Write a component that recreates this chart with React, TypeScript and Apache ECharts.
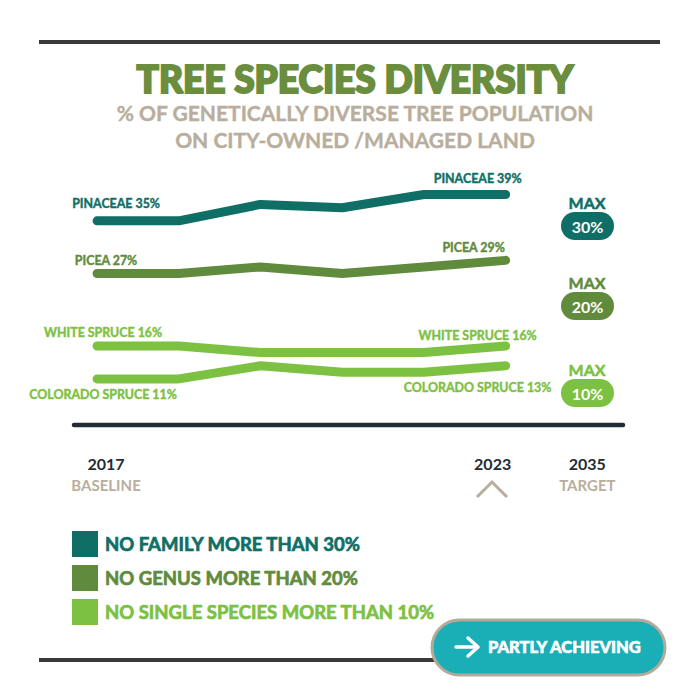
import React, { useEffect, useRef } from "react";
import * as echarts from "echarts";

// ---------- data ----------
const years = ["2017", "2019", "2020", "2021", "2022", "2023", "2035"];
const seriesNames = ["PINACEAE", "PICEA", "WHITE SPRUCE", "COLORADO SPRUCE"];
const pinaceae = [35, 35, 37.5, 37, 39, 39];
const picea = [27, 27, 28, 27, 28, 29];
const whiteSpruce = [16, 16, 15, 15, 15, 16];
const coloradoSpruce = [11, 11, 13, 12, 12, 13];
const targets = ["30%", "20%", "10%"];
const legendTexts = [
  "NO FAMILY MORE THAN 30%",
  "NO GENUS MORE THAN 20%",
  "NO SINGLE SPECIES MORE THAN 10%",
];
const titleText = "TREE SPECIES DIVERSITY";
const subtitleText = "% OF GENETICALLY DIVERSE TREE POPULATION\nON CITY-OWNED /MANAGED LAND";
const statusText = "PARTLY ACHIEVING";

// ---------- styles ----------
const TEAL = "#0f6f66";
const OLIVE = "#618b3c";
const LIGHT = "#7cc142";
const TITLE_GREEN = "#6a8e3e";
const BEIGE = "#b9ae9d";
const DARK = "#232b33";
const FONT = "Lato, 'Open Sans', sans-serif";

const colors = [TEAL, OLIVE, LIGHT, LIGHT];
const values = [pinaceae, picea, whiteSpruce, coloradoSpruce];
const startOffsets: [number, number][] = [
  [19, -17],
  [9, -13],
  [6, -13],
  [6, 16],
];
const endOffsets: [number, number][] = [
  [-28, -16],
  [-32, -13],
  [-28, -10],
  [-28, 22],
];

export default function App() {
  const ref = useRef<HTMLDivElement>(null);

  useEffect(() => {
    document.body.style.margin = "0";
    if (!ref.current) return;
    const chart = echarts.init(ref.current, undefined, { renderer: "svg" });

    const series = values.map((vals, s) => ({
      name: seriesNames[s],
      type: "line",
      color: colors[s],
      symbol: "circle",
      symbolSize: 1,
      showSymbol: true,
      lineStyle: { width: 9, color: colors[s], cap: "round", join: "round" },
      itemStyle: { color: colors[s] },
      z: 3,
      label: {
        show: false,
        fontFamily: FONT,
        fontWeight: "bold",
        fontSize: 12.4,
        color: colors[s],
        textBorderColor: colors[s],
        textBorderWidth: 0.4,
        formatter: (p: any) => `${p.seriesName} ${p.value}%`,
      },
      data: vals.map((v, i) => {
        if (i === 0)
          return { value: v, label: { show: true, position: "inside", offset: startOffsets[s] } };
        if (i === vals.length - 1)
          return { value: v, label: { show: true, position: "inside", offset: endOffsets[s] } };
        return v;
      }),
    }));

    const badgeCentersY = [226, 306, 393];
    const badgeColors = [TEAL, OLIVE, LIGHT];
    const badges: any[] = [];
    targets.forEach((t, i) => {
      const cy = badgeCentersY[i];
      badges.push({
        type: "text",
        x: 587,
        y: cy - 24,
        style: {
          text: "MAX",
          fill: badgeColors[i],
          font: `bold 16px ${FONT}`,
          stroke: badgeColors[i],
          lineWidth: 0.5,
          textAlign: "center",
          textVerticalAlign: "middle",
        },
      });
      badges.push({
        type: "rect",
        shape: { x: 561, y: cy - 14, width: 53, height: 28, r: 14 },
        style: { fill: badgeColors[i] },
      });
      badges.push({
        type: "text",
        x: 587.5,
        y: cy,
        style: {
          text: t,
          fill: "#ffffff",
          font: `bold 16px ${FONT}`,
          textAlign: "center",
          textVerticalAlign: "middle",
        },
      });
    });

    const option: any = {
      animation: false,
      backgroundColor: "#ffffff",
      title: [
        {
          text: titleText,
          left: 350,
          top: 55,
          textAlign: "center",
          textStyle: {
            fontFamily: FONT,
            fontWeight: 900,
            fontSize: 37,
            color: TITLE_GREEN,
            textBorderColor: TITLE_GREEN,
            textBorderWidth: 2,
          },
        },
        {
          text: subtitleText,
          left: 350,
          top: 94,
          textAlign: "center",
          textStyle: {
            fontFamily: FONT,
            fontWeight: "bold",
            fontSize: 21,
            lineHeight: 27,
            color: BEIGE,
            align: "center",
            textBorderColor: BEIGE,
            textBorderWidth: 0.4,
          },
        },
      ],
      legend: {
        orient: "vertical",
        left: 67,
        top: 526,
        itemWidth: 26,
        itemHeight: 26,
        itemGap: 8,
        icon: "rect",
        selectedMode: false,
        data: [0, 1, 2].map((i) => ({
          name: seriesNames[i],
          textStyle: { color: colors[i], textBorderColor: colors[i], textBorderWidth: 0.7 },
        })),
        formatter: (name: string) => legendTexts[seriesNames.indexOf(name)],
        textStyle: {
          fontFamily: FONT,
          fontWeight: "bold",
          fontSize: 18.5,
          padding: [0, 0, 0, 2],
        },
      },
      grid: { left: 56.2, right: 71.8, top: 155, bottom: 275 },
      xAxis: {
        type: "category",
        data: years,
        boundaryGap: true,
        axisLine: { show: false },
        axisTick: { show: false },
        splitLine: { show: false },
        axisLabel: {
          interval: 0,
          margin: 27,
          formatter: (v: string, i: number) => {
            if (i === 0) return `{y0|${v}}\n{s0|BASELINE}`;
            if (i === 5) return `{y5|${v}}`;
            if (i === 6) return `{y|${v}}\n{s|TARGET}`;
            return "";
          },
          rich: {
            y: { fontFamily: FONT, fontWeight: "bold", fontSize: 16, color: DARK, lineHeight: 22 },
            s: { fontFamily: FONT, fontWeight: "bold", fontSize: 15, color: BEIGE, lineHeight: 22 },
            y0: { fontFamily: FONT, fontWeight: "bold", fontSize: 16, color: DARK, lineHeight: 22, padding: [0, 0, 0, 18] },
            s0: { fontFamily: FONT, fontWeight: "bold", fontSize: 15, color: BEIGE, lineHeight: 22, padding: [0, 0, 0, 18] },
            y5: { fontFamily: FONT, fontWeight: "bold", fontSize: 16, color: DARK, lineHeight: 22, padding: [0, 26, 0, 0] },
          },
        },
      },
      yAxis: {
        type: "value",
        min: 4,
        max: 45,
        show: false,
        splitLine: { show: false },
      },
      series,
      graphic: [
        { type: "line", shape: { x1: 39, y1: 42, x2: 660, y2: 42 }, style: { stroke: "#3a3a3a", lineWidth: 4 } },
        { type: "line", shape: { x1: 39, y1: 660, x2: 660, y2: 660 }, style: { stroke: "#3a3a3a", lineWidth: 4 } },
        {
          type: "line",
          shape: { x1: 74, y1: 425, x2: 623, y2: 425 },
          style: { stroke: DARK, lineWidth: 4.5, lineCap: "round" },
        },
        {
          type: "polyline",
          shape: { points: [[477, 497], [492, 482], [507, 497]] },
          style: { stroke: BEIGE, lineWidth: 3, fill: null },
        },
        ...badges,
        {
          type: "rect",
          shape: { x: 432, y: 620, width: 233, height: 55, r: 27.5 },
          style: { fill: "#1aaeb7", stroke: "#b4aa99", lineWidth: 3 },
          z: 10,
        },
        {
          type: "line",
          shape: { x1: 456, y1: 647, x2: 477, y2: 647 },
          style: { stroke: "#ffffff", lineWidth: 3.5, lineCap: "round" },
          z: 11,
        },
        {
          type: "polyline",
          shape: { points: [[468, 638], [478, 647], [468, 656]] },
          style: { stroke: "#ffffff", lineWidth: 3.5, lineCap: "round", lineJoin: "round", fill: null },
          z: 11,
        },
        {
          type: "text",
          x: 488,
          y: 647,
          z: 11,
          style: {
            text: statusText,
            fill: "#ffffff",
            stroke: "#ffffff",
            lineWidth: 0.6,
            font: `900 16.5px ${FONT}`,
            textAlign: "left",
            textVerticalAlign: "middle",
          },
        },
      ],
    };

    chart.setOption(option);
    return () => chart.dispose();
  }, []);

  return <div ref={ref} style={{ width: 700, height: 700 }} />;
}
